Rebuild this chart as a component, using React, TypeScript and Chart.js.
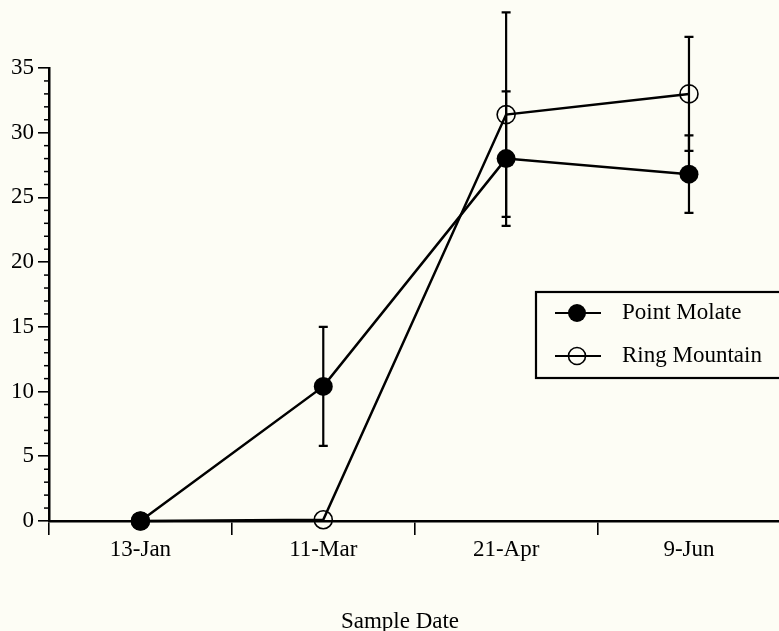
import React, { useEffect, useRef } from "react";
import { Chart, registerables } from "chart.js";

Chart.register(...registerables);

const categories = ["13-Jan", "11-Mar", "21-Apr", "9-Jun"];
const pointMolate = [0, 10.4, 28.0, 26.8];
const pointMolateErr = [0, 4.6, 5.2, 3.0];
const ringMountain = [0, 0.1, 31.4, 33.0];
const ringMountainErr = [0, 0, 7.9, 4.4];
const yTicksMajor = [0, 5, 10, 15, 20, 25, 30, 35];
const xTitle = "Sample Date";
const legendLabels = ["Point Molate", "Ring Mountain"];

const FONT = '"Liberation Serif", "Times New Roman", serif';
const BG = "#fdfdf5";

const errs = [pointMolateErr, ringMountainErr];

const customPlugin = {
  id: "custom",
  beforeDraw(chart: any) {
    const ctx = chart.ctx;
    ctx.save();
    ctx.fillStyle = BG;
    ctx.fillRect(0, 0, chart.width, chart.height);
    ctx.restore();
  },
  afterDatasetsDraw(chart: any) {
    const ctx = chart.ctx;
    const xs = chart.scales.x;
    const ys = chart.scales.y;
    ctx.save();
    ctx.strokeStyle = "#000";
    ctx.lineWidth = 2.2;
    // error bars
    chart.data.datasets.forEach((ds: any, di: number) => {
      ds.data.forEach((v: number, i: number) => {
        const e = errs[di][i];
        if (!e) return;
        const x = xs.getPixelForValue(i);
        const yt = ys.getPixelForValue(v + e);
        const yb = ys.getPixelForValue(v - e);
        ctx.beginPath();
        ctx.moveTo(x, yt);
        ctx.lineTo(x, yb);
        ctx.moveTo(x - 4.5, yt);
        ctx.lineTo(x + 4.5, yt);
        ctx.moveTo(x - 4.5, yb);
        ctx.lineTo(x + 4.5, yb);
        ctx.stroke();
      });
    });
    // minor ticks on y axis
    ctx.lineWidth = 1.5;
    const left = chart.chartArea.left;
    for (let v = 0; v <= 35; v++) {
      if (v % 5 === 0) continue;
      const y = ys.getPixelForValue(v);
      ctx.beginPath();
      ctx.moveTo(left - 5, y);
      ctx.lineTo(left, y);
      ctx.stroke();
    }
    // axis title
    ctx.fillStyle = "#000";
    ctx.font = `23px ${FONT}`;
    ctx.textAlign = "center";
    ctx.textBaseline = "alphabetic";
    ctx.fillText(xTitle, 400, 628);
    // legend
    const bx = 536, by = 292, bw = 260, bh = 86;
    ctx.lineWidth = 2.2;
    ctx.strokeRect(bx, by, bw, bh);
    const rows = [313, 356];
    rows.forEach((ry, i) => {
      ctx.lineWidth = 2.2;
      ctx.beginPath();
      ctx.moveTo(555, ry);
      ctx.lineTo(601, ry);
      ctx.stroke();
      ctx.beginPath();
      ctx.arc(577, ry, i === 0 ? 9 : 8.5, 0, Math.PI * 2);
      if (i === 0) {
        ctx.fillStyle = "#000";
        ctx.fill();
      } else {
        ctx.lineWidth = 1.6;
        ctx.stroke();
      }
      ctx.fillStyle = "#000";
      ctx.textAlign = "left";
      ctx.textBaseline = "middle";
      ctx.fillText(legendLabels[i], 622, ry);
    });
    ctx.restore();
  },
};

export default function App() {
  const ref = useRef<HTMLCanvasElement>(null);
  useEffect(() => {
    if (!ref.current) return;
    const chart = new Chart(ref.current, {
      type: "line",
      data: {
        labels: categories,
        datasets: [
          {
            label: legendLabels[0],
            data: pointMolate,
            borderColor: "#000",
            borderWidth: 2.5,
            pointRadius: 9.5,
            pointBackgroundColor: "#000",
            pointBorderColor: "#000",
            pointBorderWidth: 0,
            tension: 0,
            clip: false as any,
          },
          {
            label: legendLabels[1],
            data: ringMountain,
            borderColor: "#000",
            borderWidth: 2.5,
            pointRadius: 9,
            pointBackgroundColor: "rgba(0,0,0,0)",
            pointBorderColor: "#000",
            pointBorderWidth: 1.6,
            tension: 0,
            clip: false as any,
          },
        ],
      },
      options: {
        animation: false,
        responsive: false,
        layout: { padding: { top: 68, left: 0, right: 0, bottom: 0 } },
        plugins: {
          legend: { display: false },
          tooltip: { enabled: false },
        },
        scales: {
          x: {
            type: "category",
            offset: true,
            grid: {
              offset: true,
              drawOnChartArea: false,
              drawTicks: true,
              tickLength: 14,
              color: "#000",
              lineWidth: 1.6,
            },
            border: { display: true, color: "#000", width: 2.5 },
            ticks: {
              color: "#000",
              font: { family: FONT, size: 23 },
              padding: 1,
              maxRotation: 0,
              autoSkip: false,
            },
            afterFit(scale: any) {
              scale.height = 110;
              scale.paddingLeft = 0;
              scale.paddingRight = 0;
            },
          },
          y: {
            min: 0,
            max: 35,
            afterBuildTicks(scale: any) {
              scale.ticks = yTicksMajor.map((v) => ({ value: v }));
            },
            grid: {
              drawOnChartArea: false,
              drawTicks: true,
              tickLength: 11,
              color: "#000",
              lineWidth: 1.6,
            },
            border: { display: true, color: "#000", width: 2.5 },
            ticks: {
              color: "#000",
              font: { family: FONT, size: 23 },
              padding: 4,
            },
            afterFit(scale: any) {
              scale.width = 49;
            },
          },
        },
      },
      plugins: [customPlugin],
    });
    return () => chart.destroy();
  }, []);
  return (
    <div style={{ position: "absolute", left: 0, top: 0, width: 779, height: 631, overflow: "hidden" }}>
      <canvas ref={ref} width={791} height={631} style={{ width: 791, height: 631, display: "block" }} />
    </div>
  );
}
